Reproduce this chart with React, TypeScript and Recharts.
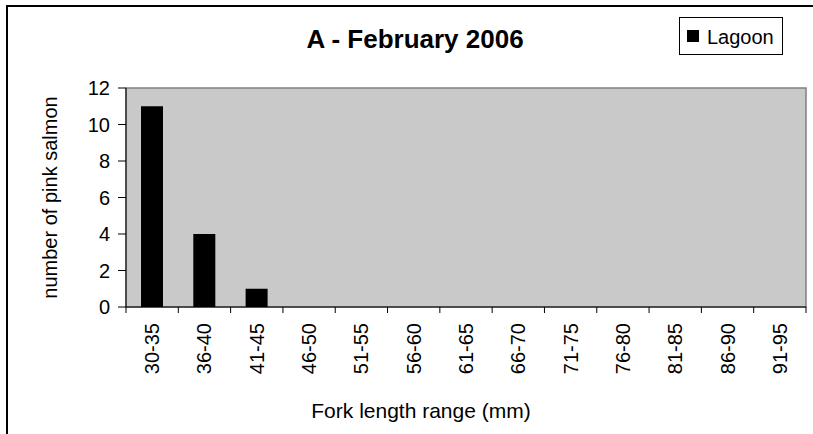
import React from "react";
import {
    BarChart,
    Bar,
    XAxis,
    YAxis,
    CartesianGrid,
    ReferenceArea,
    Legend,
} from "recharts";

// Fork length ranges (mm) and counts of pink salmon caught in the lagoon
const lengthRanges = ["30-35", "36-40", "41-45", "46-50", "51-55", "56-60", "61-65", "66-70", "71-75", "76-80", "81-85", "86-90", "91-95"];
const lagoonCounts = [11, 4, 1, 0, 0, 0, 0, 0, 0, 0, 0, 0, 0];
const yTicks = [0, 2, 4, 6, 8, 10, 12];

const FONT = '"Liberation Sans", Arial, Helvetica, sans-serif';

const data = lengthRanges.map((range, i) => ({ range, lagoon: lagoonCounts[i] }));

// Excel-style ticks: lines between categories, labels rotated upward
const RangeTick = (props: any) => {
    const { x, y, payload, index, visibleTicksCount } = props;
    const half = payload && payload.offset ? payload.offset : 26.15;
    const ty = y + 16;
    return (
        <g>
            <line x1={x - half} x2={x - half} y1={y} y2={y + 6} stroke="#000" />
            {index === visibleTicksCount - 1 && (
                <line x1={x + half} x2={x + half} y1={y} y2={y + 6} stroke="#000" />
            )}
            <text
                x={x}
                y={ty}
                dy={7}
                transform={`rotate(-90 ${x} ${ty})`}
                textAnchor="end"
                fontSize={20}
                fill="#000"
            >
                {payload.value}
            </text>
        </g>
    );
};

const YTitle = (props: any) => {
    const vb = props.viewBox;
    const cy = vb.y + vb.height / 2;
    const x = 57;
    return (
        <text x={x} y={cy} transform={`rotate(-90 ${x} ${cy})`} textAnchor="middle" fontSize={20} fill="#000">
            number of pink salmon
        </text>
    );
};

const XTitle = (props: any) => {
    const vb = props.viewBox;
    return (
        <text x={vb.x + vb.width / 2 - 45} y={vb.y + 111} textAnchor="middle" fontSize={21} fill="#000">
            Fork length range (mm)
        </text>
    );
};

const LegendBox = (props: any) => {
    const item = props.payload && props.payload[0];
    return (
        <div style={{ position: "relative", boxSizing: "border-box", width: 104, height: 38, border: "1px solid #000", background: "#fff" }}>
            <div style={{ position: "absolute", left: 7, top: 12, width: 12, height: 12, background: "#000" }} />
            <span style={{ position: "absolute", left: 27, top: 9, fontSize: 20, lineHeight: "20px", color: "#000" }}>
                {item ? item.value : "Lagoon"}
            </span>
        </div>
    );
};

export default function App() {
    return (
        <div style={{ position: "absolute", left: 0, top: 0, width: 813, height: 434, overflow: "hidden", background: "#fff", fontFamily: FONT }}>
            {/* chart area border (right and bottom edges fall outside the picture) */}
            <div style={{ position: "absolute", left: 6, top: 5, width: 840, height: 460, border: "2px solid #000", boxSizing: "border-box" }} />

            <svg width={813} height={70} style={{ position: "absolute", left: 0, top: 0 }}>
                <text x={415} y={48} textAnchor="middle" fontSize={26} fontWeight="bold" fill="#000" fontFamily={FONT}>
                    A - February 2006
                </text>
            </svg>

            <div style={{ position: "absolute", left: 0, top: 0 }}>
                <BarChart
                    width={813}
                    height={434}
                    data={data}
                    margin={{ top: 88, right: 7, left: 0, bottom: 0 }}
                    style={{ fontFamily: FONT }}
                >
                    <CartesianGrid fill="#C9C9C9" stroke="none" horizontal={false} vertical={false} />
                    <ReferenceArea y1={0} y2={12} fill="none" stroke="#808080" strokeWidth={1.5} ifOverflow="visible" />
                    <XAxis
                        dataKey="range"
                        height={127}
                        interval={0}
                        tickLine={false}
                        tickSize={0}
                        tickMargin={0}
                        axisLine={{ stroke: "#000" }}
                        tick={<RangeTick />}
                        label={<XTitle />}
                    />
                    <YAxis
                        width={126}
                        domain={[0, 12]}
                        ticks={yTicks}
                        interval={0}
                        tickSize={8}
                        tickMargin={8}
                        axisLine={{ stroke: "#000" }}
                        tickLine={{ stroke: "#000" }}
                        tick={{ fill: "#000", fontSize: 20 }}
                        label={<YTitle />}
                    />
                    <Legend
                        layout="horizontal"
                        verticalAlign="middle"
                        align="center"
                        wrapperStyle={{ left: 679, top: 17, width: 104, height: 38 }}
                        content={<LegendBox />}
                    />
                    <Bar dataKey="lagoon" name="Lagoon" fill="#000" barSize={22} isAnimationActive={false} />
                </BarChart>
            </div>
        </div>
    );
}
